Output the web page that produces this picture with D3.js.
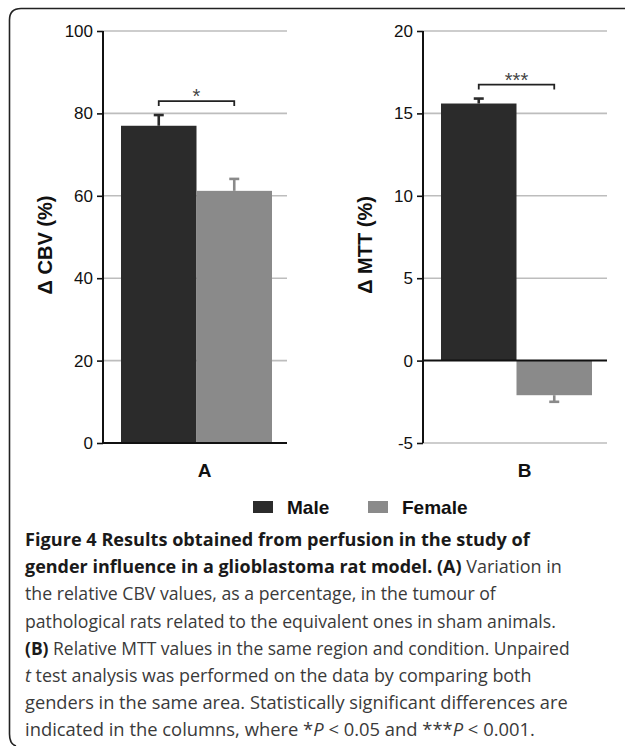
<!DOCTYPE html>
<html>
<head>
<meta charset="utf-8">
<script src="https://cdn.jsdelivr.net/npm/d3@7"></script>
<style>
  html, body { margin: 0; padding: 0; background: #fff; }
  svg { display: block; }
</style>
</head>
<body>
<svg id="chart" width="625" height="746"></svg>
<script>
// ---------- data ----------
const categories = ["Male", "Female"];
const seriesColors = ["#2b2b2b", "#8a8a8a"];
const panelLabels = ["A", "B"];
const yLabels = ["\u0394 CBV (%)", "\u0394 MTT (%)"];
const cbvValues = [77.0, 61.2];
const cbvErrors = [2.6, 2.9];
const mttValues = [15.6, -2.1];
const mttErrors = [0.3, 0.4];
const cbvTicks = [0, 20, 40, 60, 80, 100];
const mttTicks = [-5, 0, 5, 10, 15, 20];
const significance = ["*", "***"];

const captionLines = [
  [{t: "Figure 4 Results obtained from perfusion in the study of", b: true}],
  [{t: "gender influence in a glioblastoma rat model. (A)", b: true}, {t: " Variation in"}],
  [{t: "the relative CBV values, as a percentage, in the tumour of"}],
  [{t: "pathological rats related to the equivalent ones in sham animals."}],
  [{t: "(B)", b: true}, {t: " Relative MTT values in the same region and condition. Unpaired"}],
  [{t: "t", i: true}, {t: " test analysis was performed on the data by comparing both"}],
  [{t: "genders in the same area. Statistically significant differences are"}],
  [{t: "indicated in the columns, where *"}, {t: "P", i: true}, {t: " < 0.05 and ***"}, {t: "P", i: true}, {t: " < 0.001."}]
];

// ---------- layout ----------
const svg = d3.select("#chart");
const chartFont = "'Liberation Sans', Arial, Helvetica, sans-serif";
const capFont = "'Open Sans', 'Noto Sans', sans-serif";

// frame
svg.append("path")
  .attr("d", "M625,8.5 L21,8.5 Q9.5,8.5 9.5,20 L9.5,734 Q9.5,744 16,746")
  .attr("fill", "none").attr("stroke", "#222").attr("stroke-width", 1.6);

const panels = [
  {values: cbvValues, errors: cbvErrors, ticks: cbvTicks, axisX: 103, right: 287},
  {values: mttValues, errors: mttErrors, ticks: mttTicks, axisX: 423, right: 607}
];
const yTop = 31, yBottom = 443;

panels.forEach((p, pi) => {
  const g = svg.append("g");
  const y = d3.scaleLinear()
    .domain(d3.extent(p.ticks))
    .range([yBottom, yTop]);
  const x = d3.scaleBand()
    .domain(categories)
    .range([p.axisX + 18, p.right - 15])
    .paddingInner(0).paddingOuter(0);

  // gridlines
  g.append("g").selectAll("line")
    .data(p.ticks.filter(t => t !== 0))
    .join("line")
    .attr("x1", p.axisX).attr("x2", p.right)
    .attr("y1", d => y(d)).attr("y2", d => y(d))
    .attr("stroke", "#bdbdbd").attr("stroke-width", 1.6);

  // y axis
  const axis = d3.axisLeft(y).tickValues(p.ticks).tickSize(6).tickPadding(4)
    .tickFormat(d => String(d));
  const ag = g.append("g").attr("transform", `translate(${p.axisX},0)`).call(axis);
  ag.select(".domain").attr("stroke", "#111").attr("stroke-width", 2)
    .attr("d", `M0,${yTop}V${yBottom}`);
  ag.selectAll(".tick line").attr("stroke", "#111").attr("stroke-width", 1.6);
  ag.selectAll(".tick text")
    .attr("font-family", chartFont).attr("font-size", 17).attr("fill", "#111");

  // bars
  g.append("g").selectAll("rect")
    .data(categories)
    .join("rect")
    .attr("x", d => x(d))
    .attr("width", x.bandwidth())
    .attr("y", (d, i) => Math.min(y(p.values[i]), y(0)))
    .attr("height", (d, i) => Math.abs(y(p.values[i]) - y(0)))
    .attr("fill", (d, i) => seriesColors[i]);

  // error bars
  const eb = g.append("g");
  categories.forEach((c, i) => {
    const cx = x(c) + x.bandwidth() / 2;
    const v = p.values[i];
    const end = v >= 0 ? v + p.errors[i] : v - p.errors[i];
    eb.append("line").attr("x1", cx).attr("x2", cx)
      .attr("y1", y(v)).attr("y2", y(end))
      .attr("stroke", seriesColors[i]).attr("stroke-width", 2.6);
    eb.append("line").attr("x1", cx - 5).attr("x2", cx + 5)
      .attr("y1", y(end)).attr("y2", y(end))
      .attr("stroke", seriesColors[i]).attr("stroke-width", 2.6);
  });

  // zero / x axis line
  g.append("line")
    .attr("x1", p.axisX).attr("x2", p.right)
    .attr("y1", y(0)).attr("y2", y(0))
    .attr("stroke", "#111").attr("stroke-width", 2);

  // significance bracket
  const tops = p.values.map((v, i) => y(v >= 0 ? v + p.errors[i] : v));
  const by = d3.min(tops) - 14;
  const x0 = x(categories[0]) + x.bandwidth() / 2;
  const x1 = x(categories[1]) + x.bandwidth() / 2;
  g.append("path")
    .attr("d", `M${x0},${by + 5}V${by}H${x1}V${by + 5}`)
    .attr("fill", "none").attr("stroke", "#222").attr("stroke-width", 1.8);
  g.append("text")
    .attr("x", (x0 + x1) / 2).attr("y", by + 2)
    .attr("text-anchor", "middle")
    .attr("font-family", chartFont).attr("font-size", 20).attr("fill", "#444")
    .text(significance[pi]);

  // y label
  g.append("text")
    .attr("transform", `translate(${p.axisX - 51},${(yTop + yBottom) / 2 + 8}) rotate(-90)`)
    .attr("text-anchor", "middle")
    .attr("font-family", chartFont).attr("font-weight", "bold").attr("font-size", 20)
    .attr("fill", "#111")
    .text(yLabels[pi]);

  // panel letter
  g.append("text")
    .attr("x", (x0 + x1) / 2 + 8).attr("y", 477)
    .attr("text-anchor", "middle")
    .attr("font-family", chartFont).attr("font-weight", "bold").attr("font-size", 19)
    .attr("fill", "#111")
    .text(panelLabels[pi]);
});

// legend
const legendX = [253, 368];
const lg = svg.append("g");
categories.forEach((c, i) => {
  lg.append("rect").attr("x", legendX[i]).attr("y", 501)
    .attr("width", 20).attr("height", 12).attr("fill", seriesColors[i]);
  lg.append("text").attr("x", legendX[i] + 34).attr("y", 514)
    .attr("font-family", chartFont).attr("font-weight", "bold").attr("font-size", 19)
    .attr("fill", "#111").text(c);
});

// caption: each line horizontally scaled to its measured width in the reference
const capEnds = [530, 562, 496, 556, 570, 532, 568, 535];
const capX = 25;
captionLines.forEach((segs, li) => {
  const t = svg.append("text")
    .attr("x", 0).attr("y", 0)
    .attr("font-family", capFont).attr("font-size", 18.5)
    .attr("fill", "#3a3a3a");
  segs.forEach(s => {
    t.append("tspan")
      .attr("font-weight", s.b ? "bold" : "normal")
      .attr("font-style", s.i ? "italic" : "normal")
      .attr("fill", s.b ? "#1a1a1a" : "#3a3a3a")
      .text(s.t);
  });
  const w = t.node().getComputedTextLength();
  const sx = (capEnds[li] - capX) / w;
  t.attr("transform", `translate(${capX},${546 + li * 27.2}) scale(${sx},1)`);
});
</script>
</body>
</html>
